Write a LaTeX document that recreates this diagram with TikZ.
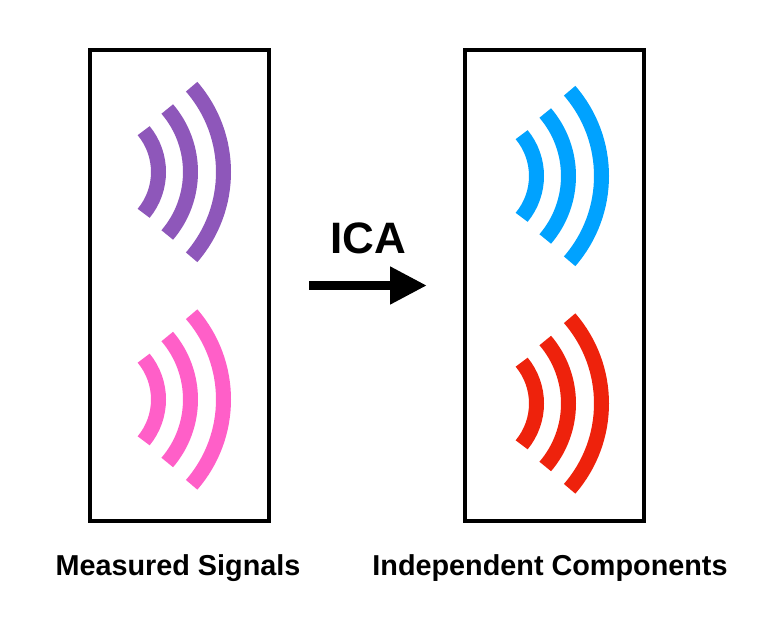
\documentclass[tikz,border=0pt]{standalone}
\usepackage{fontspec}
\setmainfont{Liberation Sans}
\usetikzlibrary{arrows.meta}
\definecolor{cpurple}{HTML}{8E57BA}
\definecolor{cpink}{HTML}{FF5FC8}
\definecolor{cblue}{HTML}{00A2FF}
\definecolor{cred}{HTML}{EE220C}
\tikzset{
  panel/.style={draw=black,line width=4pt,minimum width=179pt,minimum height=471pt,inner sep=0pt},
  caption/.style={font=\bfseries\fontsize{28.8}{32}\selectfont,inner sep=0pt,anchor=base},
  wave/.style={line width=15pt,line cap=butt},
  flow/.style={line width=9.5pt,-{Triangle[length=37pt,width=35.5pt]},shorten >=0pt}
}
\newcommand{\signal}[3]{% x of arc centre, y of centre, colour
  \foreach \r/\a in {65/39.5,97/40.5,130/41}{
    \draw[wave,#3] ({#1+\r*cos(\a)},{#2-\r*sin(\a)}) arc[start angle=\a,end angle=-\a,radius=\r pt];
  }
}
\begin{document}
\begin{tikzpicture}[x=1pt,y=-1pt]
\useasboundingbox (0,0) rectangle (766,632);
\node[panel] (left) at (179.7,285) {};
\node[panel] (right) at (554.7,285) {};
\signal{93.5}{172}{cpurple}
\signal{93.5}{399.5}{cpink}
\signal{471.5}{176}{cblue}
\signal{471.5}{403.5}{cred}
\coordinate (from) at (309,285.5);
\coordinate (to) at (427,285.5);
\draw[flow] (from) -- (to);
\node[font=\bfseries\fontsize{44}{48}\selectfont,inner sep=0pt,anchor=base] (ica) at (368,253) {ICA};
\node[caption] (cl) at (178,575) {Measured Signals};
\node[caption] (cr) at (550,575) {Independent Components};
\end{tikzpicture}
\end{document}
